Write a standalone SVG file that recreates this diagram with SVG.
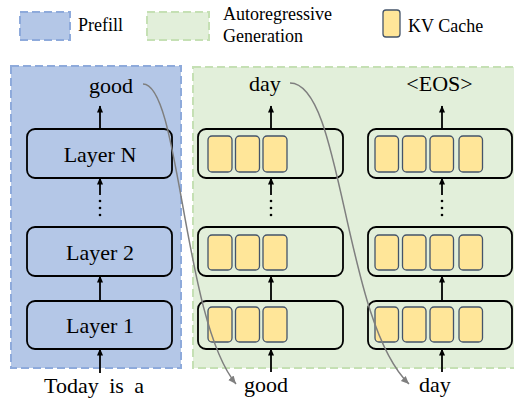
<svg xmlns="http://www.w3.org/2000/svg" width="514" height="398" viewBox="0 0 514 398">
<style>
.t22{font-size:22px}
.t18{font-size:18px}
.pre{fill:#b4c7e7;stroke:#8eaadb;stroke-width:2;stroke-dasharray:8 4}
.gen{fill:#e2efda;stroke:#c5e0b4;stroke-width:2;stroke-dasharray:8 4}
.box{fill:none;stroke:#000;stroke-width:1.8}
.kv{fill:#ffe699;stroke:#44546a;stroke-width:1.3}
.arr{stroke:#000;stroke-width:1.8;fill:none;marker-end:url(#ah)}
.cur{stroke:#7f7f7f;stroke-width:1.5;fill:none;marker-end:url(#ag)}
.dot{fill:#000}
</style>
<defs>
<marker id="ah" markerWidth="8" markerHeight="8" refX="6.5" refY="4" orient="auto" markerUnits="userSpaceOnUse"><path d="M0,1 L7,4 L0,7 z" fill="#000"/></marker>
<marker id="ag" markerWidth="10" markerHeight="10" refX="8" refY="5" orient="auto" markerUnits="userSpaceOnUse"><path d="M0,1.5 L8,5 L0,8.5 z" fill="#7f7f7f"/></marker>
</defs>
<rect width="514" height="398" fill="#fff"/>
<g id="legend" font-family="Liberation Serif, Times New Roman, serif">
<rect class="pre" x="20" y="12" width="50" height="28"/>
<text class="t18" x="78" y="31">Prefill</text>
<rect class="gen" x="147" y="12" width="62" height="28"/>
<text class="t18" x="223" y="20">Autoregressive</text>
<text class="t18" x="223" y="42">Generation</text>
<rect class="kv" x="383" y="10" width="17" height="27" rx="3"/>
<text class="t18" x="408" y="32">KV Cache</text>
</g>
<g id="prefill-panel"><rect class="pre" x="11" y="66" width="170" height="302"/></g>
<g id="gen-panel"><rect class="gen" x="193" y="67" width="330" height="301"/></g>
<g id="layerN" font-family="Liberation Serif, Times New Roman, serif"><rect class="box" x="27" y="129" width="145" height="49" rx="8"/><text class="t22" x="100" y="162" text-anchor="middle">Layer N</text></g>
<g id="layer2" font-family="Liberation Serif, Times New Roman, serif"><rect class="box" x="27" y="227" width="145" height="49" rx="8"/><text class="t22" x="100" y="260" text-anchor="middle">Layer 2</text></g>
<g id="layer1" font-family="Liberation Serif, Times New Roman, serif"><rect class="box" x="27" y="301" width="145" height="48" rx="8"/><text class="t22" x="100" y="333" text-anchor="middle">Layer 1</text></g>
<g id="g1r1"><rect class="box" x="198" y="129" width="145" height="49" rx="8"/>
<rect class="kv" x="208" y="136" width="24" height="36" rx="4"/><rect class="kv" x="235.5" y="136" width="24" height="36" rx="4"/><rect class="kv" x="263" y="136" width="24" height="36" rx="4"/></g>
<g id="g1r2"><rect class="box" x="198" y="227" width="145" height="49" rx="8"/>
<rect class="kv" x="208" y="235" width="24" height="35" rx="4"/><rect class="kv" x="235.5" y="235" width="24" height="35" rx="4"/><rect class="kv" x="263" y="235" width="24" height="35" rx="4"/></g>
<g id="g1r3"><rect class="box" x="198" y="301" width="145" height="48" rx="8"/>
<rect class="kv" x="208" y="307" width="24" height="35" rx="4"/><rect class="kv" x="235.5" y="307" width="24" height="35" rx="4"/><rect class="kv" x="263" y="307" width="24" height="35" rx="4"/></g>
<g id="g2r1"><rect class="box" x="368" y="129" width="144" height="49" rx="8"/>
<rect class="kv" x="375" y="136" width="23.5" height="36" rx="4"/><rect class="kv" x="402.5" y="136" width="23.5" height="36" rx="4"/><rect class="kv" x="430" y="136" width="23.5" height="36" rx="4"/><rect class="kv" x="459" y="136" width="23.5" height="36" rx="4"/></g>
<g id="g2r2"><rect class="box" x="368" y="227" width="144" height="49" rx="8"/>
<rect class="kv" x="375" y="235" width="23.5" height="35" rx="4"/><rect class="kv" x="402.5" y="235" width="23.5" height="35" rx="4"/><rect class="kv" x="430" y="235" width="23.5" height="35" rx="4"/><rect class="kv" x="459" y="235" width="23.5" height="35" rx="4"/></g>
<g id="g2r3"><rect class="box" x="368" y="301" width="144" height="48" rx="8"/>
<rect class="kv" x="375" y="307" width="23.5" height="35" rx="4"/><rect class="kv" x="402.5" y="307" width="23.5" height="35" rx="4"/><rect class="kv" x="430" y="307" width="23.5" height="35" rx="4"/><rect class="kv" x="459" y="307" width="23.5" height="35" rx="4"/></g>
<g id="labels" font-family="Liberation Serif, Times New Roman, serif">
<text class="t22" x="111" y="93" text-anchor="middle">good</text>
<text class="t22" x="265" y="91" text-anchor="middle">day</text>
<text class="t22" x="439.5" y="91" text-anchor="middle">&lt;EOS&gt;</text>
<text class="t22" x="44" y="393" word-spacing="5">Today is a</text>
<text class="t22" x="266" y="392" text-anchor="middle">good</text>
<text class="t22" x="435" y="392" text-anchor="middle">day</text>
</g>
<g id="connectors">
<line class="arr" x1="100" y1="129" x2="100" y2="106"/>
<line class="arr" x1="100" y1="195" x2="100" y2="178"/>
<line class="arr" x1="100" y1="301" x2="100" y2="276"/>
<line class="arr" x1="100" y1="373" x2="100" y2="349"/>
<line class="arr" x1="271" y1="129" x2="271" y2="106"/>
<line class="arr" x1="271" y1="195" x2="271" y2="178"/>
<line class="arr" x1="271" y1="301" x2="271" y2="276"/>
<line class="arr" x1="271" y1="372" x2="271" y2="349"/>
<line class="arr" x1="442" y1="129" x2="442" y2="106"/>
<line class="arr" x1="442" y1="195" x2="442" y2="178"/>
<line class="arr" x1="442" y1="301" x2="442" y2="276"/>
<line class="arr" x1="442" y1="372" x2="442" y2="349"/>
<circle class="dot" cx="100" cy="201" r="1.3"/><circle class="dot" cx="100" cy="208" r="1.3"/><circle class="dot" cx="100" cy="215" r="1.3"/>
<circle class="dot" cx="271" cy="201" r="1.3"/><circle class="dot" cx="271" cy="208" r="1.3"/><circle class="dot" cx="271" cy="215" r="1.3"/>
<circle class="dot" cx="442" cy="201" r="1.3"/><circle class="dot" cx="442" cy="208" r="1.3"/><circle class="dot" cx="442" cy="215" r="1.3"/>
<path class="cur" d="M143,84 C180,84 183,320 236,384"/>
<path class="cur" d="M290,83 C343,83 343,320 409,384"/>
</g>
</svg>
